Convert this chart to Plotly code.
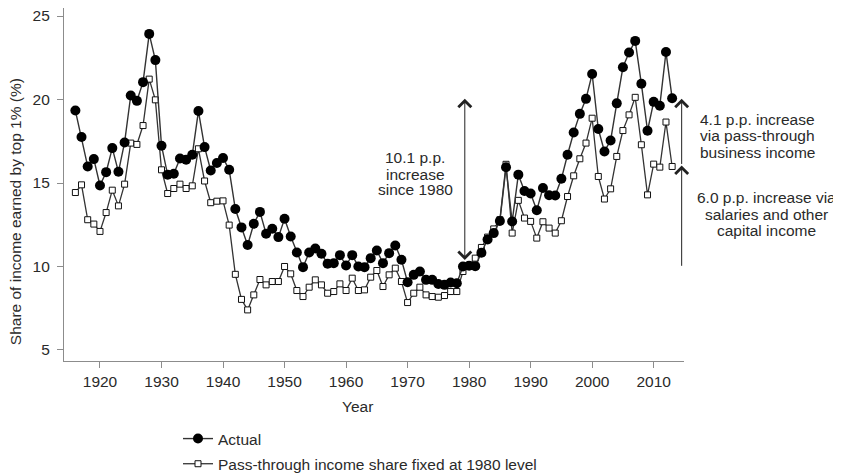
import plotly.graph_objects as go

years = list(range(1916, 2014))

actual = [
    19.34, 17.75, 15.99, 16.43,
    14.85, 15.65, 17.09, 15.67, 17.43, 20.24, 19.92, 21.04, 23.93, 22.36,
    17.23, 15.49, 15.55, 16.47, 16.39, 16.69, 19.31, 17.15, 15.75, 16.20,
    16.50, 15.79, 13.44, 12.34, 11.29, 12.56, 13.27, 11.96, 12.26, 11.76,
    12.86, 11.80, 10.84, 9.96, 10.84, 11.08, 10.76, 10.16, 10.20, 10.68,
    10.06, 10.68, 10.00, 9.96, 10.50, 10.96, 10.20, 10.80, 11.26, 10.40,
    9.06, 9.50, 9.70, 9.20, 9.20, 8.95, 8.90, 9.04, 9.00, 10.00,
    10.05, 10.02, 10.82, 11.62, 12.00, 12.72, 15.94, 12.69, 15.50, 14.52,
    14.37, 13.37, 14.70, 14.27, 14.25, 15.25, 16.69, 18.02, 19.14, 20.04,
    21.53, 18.23, 16.89, 17.55, 19.77, 21.93, 22.81, 23.51, 20.94, 18.13,
    19.86, 19.63, 22.84, 20.08,
]

passthrough_fixed = [
    14.43, 14.89, 12.80, 12.54,
    12.10, 13.23, 14.57, 13.63, 14.93, 17.39, 17.31, 18.44, 21.22, 19.98,
    15.79, 14.37, 14.67, 14.93, 14.67, 14.83, 17.05, 15.12, 13.82, 13.91,
    13.93, 12.48, 9.53, 8.03, 7.40, 8.30, 9.22, 8.90, 9.10, 9.10,
    10.00, 9.56, 8.56, 8.20, 8.76, 9.20, 8.90, 8.40, 8.50, 8.96,
    8.56, 9.30, 8.56, 8.60, 9.36, 9.76, 8.80, 9.50, 9.90, 9.10,
    7.84, 8.40, 8.76, 8.30, 8.20, 8.16, 8.26, 8.50, 8.50, 9.70,
    10.05, 10.50, 11.14, 11.76, 12.25, 12.80, 16.12, 12.00, 13.96, 12.90,
    12.70, 11.70, 12.68, 12.30, 12.00, 12.74, 14.19, 15.43, 16.45, 17.39,
    18.88, 15.39, 14.04, 14.65, 16.59, 18.14, 19.08, 20.13, 17.29, 14.29,
    16.13, 15.95, 18.65, 15.99,
]

x_ticks = [1920, 1930, 1940, 1950, 1960, 1970, 1980, 1990, 2000, 2010]
y_ticks = [5, 10, 15, 20, 25]

# arrow values (p.p. decomposition)
total_arrow = (10.3, 20.05)      # 10.1 p.p. since 1980
lower_arrow = (9.95, 16.05)      # 6.0 p.p. salaries & other capital income
upper_arrow = (16.05, 20.05)     # 4.1 p.p. pass-through
arrow_year_left = 1979.3
arrow_year_right = 2014.55

FONT = "Liberation Sans, Arial, Helvetica, sans-serif"
FS = 15.5
TXT = "#2a2a2a"

OFF = 8  # page body margin
W, H = 841 - OFF, 474 - OFF
# plot area, in page pixels
PL, PR, PT, PB = 64, 684, 8, 361


def px(xp):
    return (xp - PL) / (PR - PL)


def py(yp):
    return (PB - yp) / (PB - PT)


fig = go.Figure()

fig.add_trace(go.Scatter(
    x=years, y=passthrough_fixed, mode="lines+markers",
    name="Pass-through income share fixed at 1980 level",
    line=dict(color="#333333", width=1.3),
    marker=dict(symbol="square", size=6, color="white",
                line=dict(color="#111111", width=1)),
    legendrank=2, legendgroup="b",
))
fig.add_trace(go.Scatter(
    x=years, y=actual, mode="lines+markers", name="Actual",
    line=dict(color="#333333", width=1.4),
    marker=dict(symbol="circle", size=10, color="black"),
    legendrank=1, legendgroup="a",
))

ann = []


def arrow(xv, tail, head, both=False):
    d = dict(x=xv, y=head, ax=xv, ay=tail, xref="x", yref="y",
             axref="x", ayref="y", text="", showarrow=True,
             arrowhead=4, arrowsize=2.5, arrowwidth=1,
             arrowcolor="#222222", standoff=0, startstandoff=0)
    if both:
        d.update(arrowside="end+start", startarrowhead=4, startarrowsize=2.5)
    return d


ann.append(arrow(arrow_year_left, total_arrow[0], total_arrow[1], both=True))
ann.append(arrow(arrow_year_right, lower_arrow[0], lower_arrow[1]))
ann.append(arrow(arrow_year_right, upper_arrow[0], upper_arrow[1]))


def label(text, xp, yp, anchor="center", angle=0):
    return dict(text=text, x=px(xp), y=py(yp), xref="paper", yref="paper",
                xanchor=anchor, yanchor="middle", showarrow=False,
                textangle=angle, font=dict(family=FONT, size=FS, color=TXT))


for t, yy in [("10.1 p.p.", 158), ("increase", 174), ("since 1980", 189.5)]:
    ann.append(label(t, 415, yy))
for t, yy in [("4.1 p.p. increase", 119), ("via pass-through", 135.5),
              ("business income", 152)]:
    ann.append(label(t, 698, yy, anchor="left"))
for t, yy in [("6.0 p.p. increase via", 198), ("salaries and other", 214.5),
              ("capital income", 231)]:
    ann.append(label(t, 766, yy))

ann.append(label("Year", 357, 406.5))
ann.append(label("Share of income earned by top 1% (%)", 15.5, 211.7, angle=-90))

axis_common = dict(
    showgrid=False, zeroline=False, showline=True, linecolor="#8c8c8c",
    linewidth=1.2, ticks="outside", ticklen=6, tickwidth=1.2,
    tickcolor="#8c8c8c", tickfont=dict(family=FONT, size=FS, color=TXT),
    ticklabeloverflow="allow",
)

fig.update_layout(
    width=W, height=H,
    margin=dict(l=PL - OFF, r=W - (PR - OFF), t=PT - OFF, b=H - (PB - OFF),
                autoexpand=False),
    paper_bgcolor="white", plot_bgcolor="white",
    xaxis=dict(range=[1914.15, 2014.93], tickvals=x_ticks, **axis_common),
    yaxis=dict(range=[4.34, 25.48], tickvals=y_ticks, ticklabelstandoff=4,
               **axis_common),
    showlegend=True,
    legend=dict(x=px(178), y=py(422), xanchor="left", yanchor="top",
                font=dict(family=FONT, size=FS, color=TXT),
                bgcolor="rgba(0,0,0,0)", tracegroupgap=2,
                traceorder="grouped"),
    annotations=ann,
)

fig.write_html("out.html")
